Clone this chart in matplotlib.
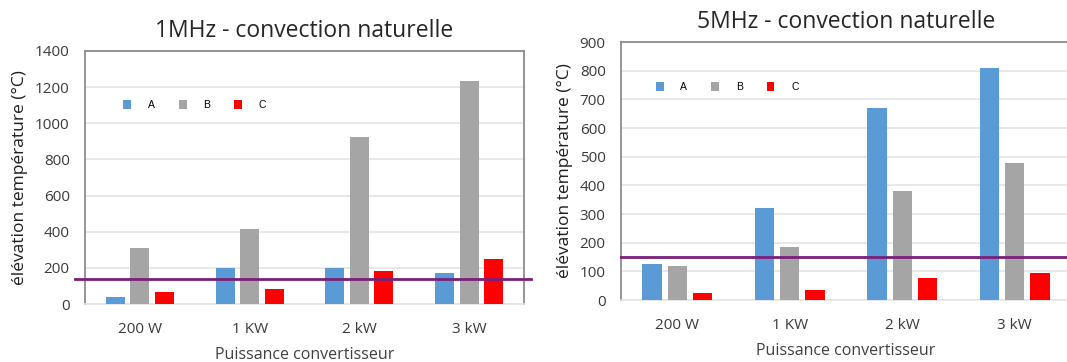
import numpy as np
import matplotlib
matplotlib.use("Agg")
import matplotlib.pyplot as plt

# donnees
categories = ["200 W", "1 KW", "2 kW", "3 kW"]
series = ["A", "B", "C"]
colors = ["#5B9BD5", "#A5A5A5", "#FF0000"]

a_1mhz = [36, 198, 198, 173]
b_1mhz = [309, 415, 924, 1236]
c_1mhz = [64, 82, 182, 249]
limit_1mhz = 140

a_5mhz = [127, 321, 669, 809]
b_5mhz = [120, 185, 380, 477]
c_5mhz = [23, 36, 76, 94]
limit_5mhz = 150

plt.rcParams['font.family'] = ['Open Sans', 'DejaVu Sans']

fig = plt.figure(figsize=(10.67, 3.62), dpi=100)
ax1 = fig.add_axes([85 / 1067, 58 / 362, 439 / 1067, 253 / 362])
ax2 = fig.add_axes([621 / 1067, 62 / 362, 450 / 1067, 258 / 362])


def draw(ax, data, limit, ymax, step, title, line_x, leg_pos):
    x = np.arange(len(categories))
    w = 0.173
    off = 0.223
    for i, (vals, col) in enumerate(zip(data, colors)):
        ax.bar(x + (i - 1) * off, vals, width=w, color=col, label=series[i], zorder=3)
    ax.set_xlim(-0.5, len(categories) - 0.5)
    ax.set_ylim(0, ymax)
    ax.set_yticks(np.arange(0, ymax + 1, step))
    ax.set_xticks(x)
    ax.set_xticklabels(categories)
    ax.tick_params(axis='both', length=0, labelsize=11, colors='#3A3A3A')
    ax.tick_params(axis='y', pad=11)
    ax.tick_params(axis='x', pad=13)
    ax.grid(axis='y', color='#E4E4E4', lw=1.2, zorder=0)
    for s in ['left', 'top', 'right']:
        ax.spines[s].set_color('#8C8C8C')
        ax.spines[s].set_linewidth(1.3)
    ax.spines['bottom'].set_color('#E4E4E4')
    ax.spines['bottom'].set_linewidth(1.2)
    ax.set_title(title, fontsize=16.5, color='#262626', pad=10)
    ax.set_ylabel("élévation température (°C)", fontsize=12.5, color='#1E1E1E', labelpad=5)
    ax.set_xlabel("Puissance convertisseur", fontsize=11.5, color='#404040', labelpad=7)
    # ligne limite
    ax.plot(line_x, [limit, limit], color='#7A1F7A', lw=2, zorder=4,
            transform=ax.get_yaxis_transform(), clip_on=False)
    ax.legend(loc='center', bbox_to_anchor=leg_pos, ncol=3, frameon=False,
              prop={'family': 'Liberation Sans', 'size': 7.5},
              handlelength=0.75, handleheight=0.9, handletextpad=1.6,
              columnspacing=2.3)


draw(ax1, [a_1mhz, b_1mhz, c_1mhz], limit_1mhz, 1400, 200,
     "1MHz - convection naturelle", [-0.023, 1.015], (0.25, 0.787))
draw(ax2, [a_5mhz, b_5mhz, c_5mhz], limit_5mhz, 900, 100,
     "5MHz - convection naturelle", [0.0, 1.1], (0.236, 0.826))

fig.savefig("out.png", dpi=100)
